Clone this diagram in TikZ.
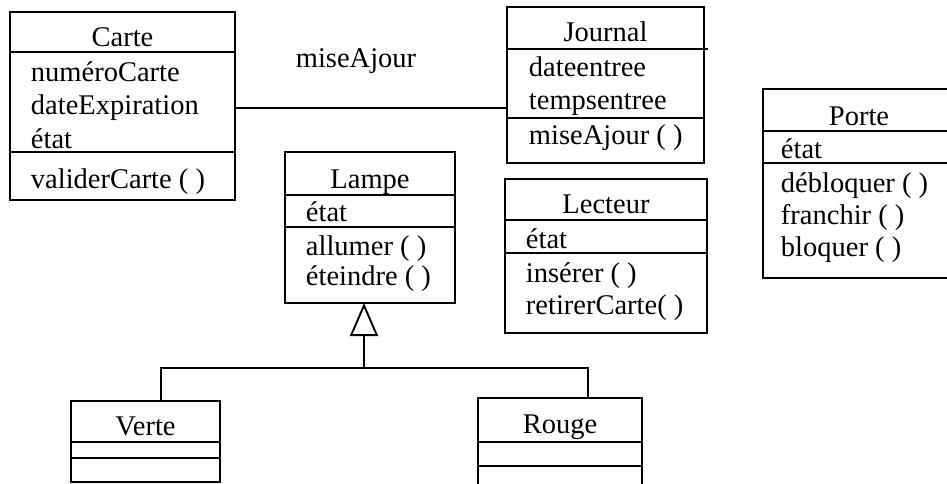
\documentclass[tikz,border=0pt]{standalone}
\usepackage{fontspec}
\setmainfont{Liberation Serif}
\usetikzlibrary{arrows.meta}

\begin{document}
\begin{tikzpicture}[x=1pt,y=-1pt,line width=1.9pt,
    font=\fontsize{28.5}{32}\selectfont,
    cls/.style={draw,anchor=north west,inner sep=0pt,outer sep=0pt},
    ttl/.style={anchor=base,inner sep=0pt},
    txt/.style={anchor=base west,inner sep=0pt},
    gen/.style={-{Triangle[open,length=33pt,width=28pt]}}]
    \path[use as bounding box] (0,0) rectangle (947,484);
    \clip (0,0) rectangle (947,484);
    \node[cls,minimum width=225pt,minimum height=188pt] (carte) at (10,12) {};
    \draw (10,52) -- (235,52);
    \draw (10,152) -- (235,152);
    \node[ttl] (carte-t) at (122.5,47) {Carte};
    \node[txt] (carte-a1) at (30,82) {numéroCarte};
    \node[txt] (carte-a2) at (30,115) {dateExpiration};
    \node[txt] (carte-a3) at (30,149) {état};
    \node[txt] (carte-o1) at (30,188) {validerCarte ( )};
    \node[cls,minimum width=197pt,minimum height=156pt] (journal) at (507,7) {};
    \draw (507,49) -- (708,49);
    \draw (507,118) -- (704,118);
    \node[ttl] (journal-t) at (605.5,42) {Journal};
    \node[txt] (journal-a1) at (528,77) {dateentree};
    \node[txt] (journal-a2) at (528,110) {tempsentree};
    \node[txt] (journal-o1) at (528,144) {miseAjour ( )};
    \node[cls,minimum width=202pt,minimum height=154pt] (lecteur) at (505,179) {};
    \draw (505,220) -- (707,220);
    \draw (505,253) -- (707,253);
    \node[ttl] (lecteur-t) at (606,213) {Lecteur};
    \node[txt] (lecteur-a1) at (525,248) {état};
    \node[txt] (lecteur-o1) at (525,282) {insérer ( )};
    \node[txt] (lecteur-o2) at (525,314) {retirerCarte( )};
    \node[cls,minimum width=170pt,minimum height=151pt] (lampe) at (285,152) {};
    \draw (285,195) -- (455,195);
    \draw (285,227) -- (455,227);
    \node[ttl] (lampe-t) at (370,188) {Lampe};
    \node[txt] (lampe-a1) at (305,221) {état};
    \node[txt] (lampe-o1) at (305,255) {allumer ( )};
    \node[txt] (lampe-o2) at (305,285) {éteindre ( )};
    \node[cls,minimum width=192pt,minimum height=189pt] (porte) at (763,89) {};
    \draw (763,131) -- (955,131);
    \draw (763,163) -- (955,163);
    \node[ttl] (porte-t) at (859,125) {Porte};
    \node[txt] (porte-a1) at (780,158) {état};
    \node[txt] (porte-o1) at (780,192) {débloquer ( )};
    \node[txt] (porte-o2) at (780,224) {franchir ( )};
    \node[txt] (porte-o3) at (780,256) {bloquer ( )};
    \node[cls,minimum width=149pt,minimum height=81pt] (verte) at (71,401) {};
    \draw (71,442) -- (220,442);
    \draw (71,458) -- (220,458);
    \node[ttl] (verte-t) at (145.5,435) {Verte};
    \node[cls,minimum width=164pt,minimum height=94pt] (rouge) at (478,398) {};
    \draw (478,442) -- (642,442);
    \draw (478,466) -- (642,466);
    \node[ttl] (rouge-t) at (560,433) {Rouge};
    \draw ([yshift=-2pt]carte.east) -- ([yshift=-2pt]carte.east -| journal.west);
    \node[ttl] (maj) at (356,68) {miseAjour};
    \coordinate (fork) at (364,368);
    \draw[gen] (fork) -- (fork |- lampe.south);
    \draw ([xshift=15.5pt]verte.north) |- (fork) -| ([xshift=28pt]rouge.north);
\end{tikzpicture}
\end{document}
